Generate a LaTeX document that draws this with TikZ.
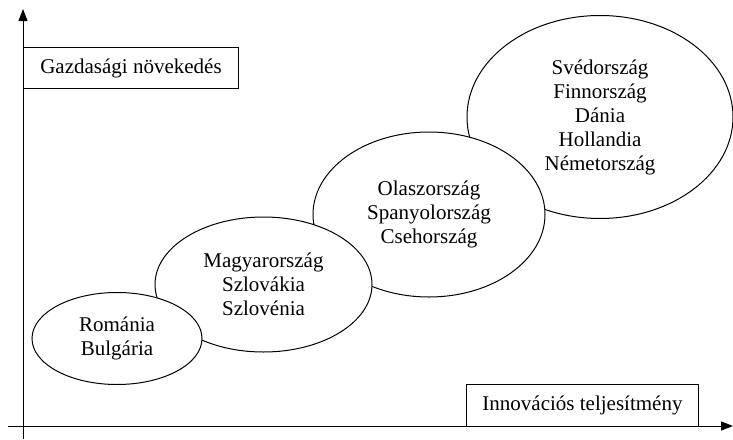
\documentclass[tikz,border=0pt]{standalone}
\usepackage{fontspec}
\setmainfont{Liberation Serif}
\newfontfamily\tnr{Liberation Serif}
\usetikzlibrary{shapes.geometric,arrows.meta}
\begin{document}
\begin{tikzpicture}[x=1pt,y=-1pt,
  font=\tnr\fontsize{21}{24}\selectfont,
  line width=1pt,
  axis/.style={-{Triangle[length=12pt,width=9pt]}},
  blob/.style={ellipse, draw, fill=white, inner sep=0pt, align=center},
  lbl/.style={draw, rectangle, inner sep=0pt, anchor=north west}]
\useasboundingbox (0,0) rectangle (733,439);
% axes
\coordinate (ybot) at (23,439);
\coordinate (ytop) at (23,9);
\coordinate (xleft) at (8,426);
\coordinate (xright) at (733,426);
\draw[axis] (ybot) -- (ytop);
\draw[axis] (xleft) -- (xright);
% axis labels
\node[lbl, minimum width=215, minimum height=41] (ylab) at (23,47) {Gazdasági növekedés};
\node[lbl, minimum width=232, minimum height=42] (xlab) at (466,384) {Innovációs teljesítmény};
% ellipses (upper right drawn first, lower left on top)
\node[blob, minimum width=266, minimum height=203] (sved) at (600,117)
  {Svédország\\Finnország\\Dánia\\Hollandia\\Németország};
\node[blob, minimum width=232, minimum height=165] (olasz) at (429,214.5)
  {Olaszország\\Spanyolország\\Csehország};
\node[blob, minimum width=217, minimum height=135] (magyar) at (263.5,284.5)
  {Magyarország\\Szlovákia\\Szlovénia};
\node[blob, minimum width=170, minimum height=92] (romania) at (117,338.5)
  {Románia\\Bulgária};
\end{tikzpicture}
\end{document}
